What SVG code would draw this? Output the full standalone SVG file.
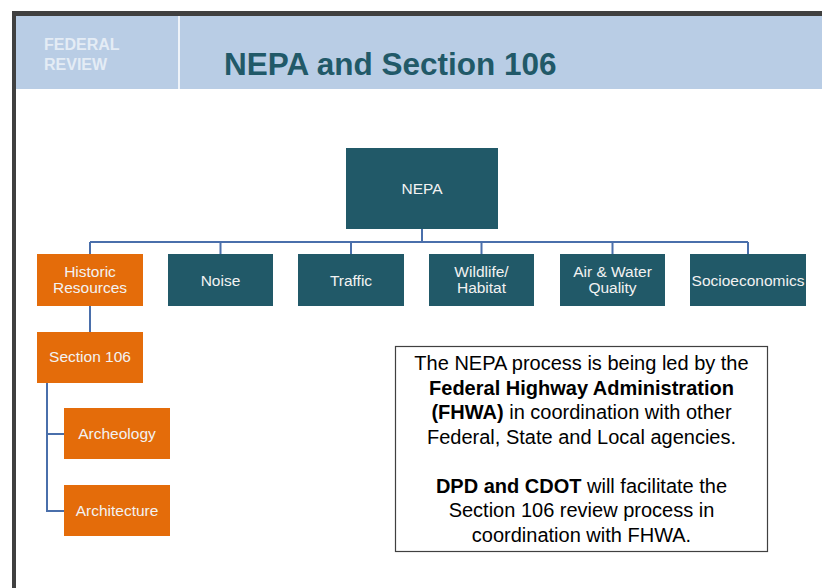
<svg xmlns="http://www.w3.org/2000/svg" width="822" height="588" viewBox="0 0 822 588">
<style>
.teal{fill:#215968}
.orange{fill:#e46c0a}
.nt{font-family:"Liberation Sans",Arial,sans-serif;font-size:15.5px;fill:#f2f2f2;text-anchor:middle}
.conn{fill:none;stroke:#4a6fab;stroke-width:2}
.bt{font-family:"Liberation Sans",Arial,sans-serif;font-size:20px;fill:#000;text-anchor:middle}
.b{font-weight:bold}
</style>
<rect x="0" y="0" width="822" height="588" fill="#ffffff"/>
<g id="frame">
<rect x="12" y="11" width="810" height="5" fill="#404040"/>
<rect x="12" y="11" width="4" height="577" fill="#404040"/>
<rect x="16" y="16" width="806" height="73" fill="#b9cde5"/>
<rect x="178" y="16" width="2" height="73" fill="#eef3f9"/>
<text x="44" y="50" font-family="'Liberation Sans',Arial,sans-serif" font-size="16" font-weight="bold" fill="#e4ecf5">FEDERAL</text>
<text x="44" y="70" font-family="'Liberation Sans',Arial,sans-serif" font-size="16" font-weight="bold" fill="#e4ecf5">REVIEW</text>
<text x="224" y="75" font-family="'Liberation Sans',Arial,sans-serif" font-size="31.5" font-weight="bold" fill="#215968">NEPA and Section 106</text>
</g>
<g id="connectors">
<path class="conn" d="M422 229V242M90 242H748M90 242V254M220.5 242V254M351 242V254M481.5 242V254M612.5 242V254M748 242V254"/>
<path class="conn" d="M90 306V332"/>
<path class="conn" d="M47 383V511H64M47 434H64"/>
</g>
<g id="nepa"><rect class="teal" x="346" y="148" width="152" height="81"/><text class="nt" x="422" y="194">NEPA</text></g>
<g id="historic"><rect class="orange" x="37" y="254" width="106" height="52"/><text class="nt" x="90" y="276.5">Historic</text><text class="nt" x="90" y="293">Resources</text></g>
<g id="noise"><rect class="teal" x="168" y="254" width="105" height="52"/><text class="nt" x="220.5" y="285.5">Noise</text></g>
<g id="traffic"><rect class="teal" x="298" y="254" width="106" height="52"/><text class="nt" x="351" y="285.5">Traffic</text></g>
<g id="wildlife"><rect class="teal" x="429" y="254" width="105" height="52"/><text class="nt" x="481.5" y="276.5">Wildlife/</text><text class="nt" x="481.5" y="293">Habitat</text></g>
<g id="airwater"><rect class="teal" x="560" y="254" width="105" height="52"/><text class="nt" x="612.5" y="276.5">Air &amp; Water</text><text class="nt" x="612.5" y="293">Quality</text></g>
<g id="socio"><rect class="teal" x="690" y="254" width="116" height="52"/><text class="nt" x="748" y="285.5">Socioeconomics</text></g>
<g id="section106"><rect class="orange" x="37" y="332" width="106" height="51"/><text class="nt" x="90" y="362">Section 106</text></g>
<g id="archeology"><rect class="orange" x="64" y="408" width="106" height="51"/><text class="nt" x="117" y="438.5">Archeology</text></g>
<g id="architecture"><rect class="orange" x="64" y="485" width="106" height="51"/><text class="nt" x="117" y="515.5">Architecture</text></g>
<g id="note">
<rect x="395.5" y="346.5" width="372" height="205" fill="#ffffff" stroke="#404040" stroke-width="1.2"/>
<text class="bt" x="581.5" y="370">The NEPA process is being led by the</text>
<text class="bt b" x="581.5" y="394.5">Federal Highway Administration</text>
<text class="bt" x="581.5" y="419"><tspan class="b">(FHWA)</tspan> in coordination with other</text>
<text class="bt" x="581.5" y="443.5">Federal, State and Local agencies.</text>
<text class="bt" x="581.5" y="492.5"><tspan class="b">DPD and CDOT</tspan> will facilitate the</text>
<text class="bt" x="581.5" y="517">Section 106 review process in</text>
<text class="bt" x="581.5" y="541.5">coordination with FHWA.</text>
</g>
</svg>
